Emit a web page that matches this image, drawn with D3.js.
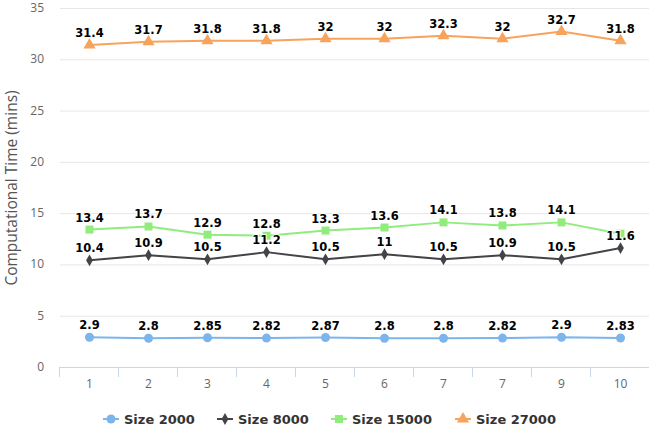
<!DOCTYPE html>
<html><head><meta charset="utf-8">
<script src="https://cdn.jsdelivr.net/npm/d3@7"></script>
<style>body{margin:0;background:#fff;}svg{display:block;font-family:"DejaVu Sans",sans-serif;}</style>
</head><body><svg id="c" width="649" height="432"></svg>
<script>
const categories = ["1","2","3","4","5","6","7","7","9","10"];
const size2000 = [2.9, 2.8, 2.85, 2.82, 2.87, 2.8, 2.8, 2.82, 2.9, 2.83];
const size8000 = [10.4, 10.9, 10.5, 11.2, 10.5, 11, 10.5, 10.9, 10.5, 11.6];
const size15000 = [13.4, 13.7, 12.9, 12.8, 13.3, 13.6, 14.1, 13.8, 14.1, 13];
const size27000 = [31.4, 31.7, 31.8, 31.8, 32, 32, 32.3, 32, 32.7, 31.8];
const seriesNames = ["Size 2000", "Size 8000", "Size 15000", "Size 27000"];
const yTicks = [0, 5, 10, 15, 20, 25, 30, 35];
const hiddenLabels = {"Size 15000": [9]};

const colors = ["#7cb5ec", "#434348", "#90ed7d", "#f7a35c"];
const symbols = [d3.symbolCircle, d3.symbolDiamond, d3.symbolSquare, d3.symbolTriangle];
const symSizes = [64, 40, 64, 64];
const series = [size2000, size8000, size15000, size27000].map((v, i) => ({name: seriesNames[i], values: v}));

const svg = d3.select("#c");
const L = 60, R = 650, T = 8, B = 367;
const x = d3.scaleBand().domain(d3.range(categories.length)).range([L, R]);
const y = d3.scaleLinear().domain([0, 35]).range([B, T]);

// gridlines
svg.append("g").selectAll("line").data(yTicks.filter(t => t > 0)).join("line")
  .attr("x1", L).attr("x2", 649).attr("y1", d => y(d) + 0.5).attr("y2", d => y(d) + 0.5)
  .attr("stroke", "#e6e6e6").attr("stroke-width", 1);

// y tick labels
svg.append("g").selectAll("text").data(yTicks).join("text")
  .attr("x", 44).attr("y", d => y(d) + 4).attr("text-anchor", "end")
  .attr("fill", "#666").style("font-family", "'Open Sans', sans-serif").style("font-size", "12px").text(d => d);

// y title
svg.append("text").attr("transform", "translate(17," + 188 + ") rotate(-90)")
  .attr("text-anchor", "middle").attr("fill", "#555").style("font-family", "'Open Sans', sans-serif").style("font-size", "15.5px")
  .text("Computational Time (mins)");

// x axis
const xa = svg.append("g");
xa.append("line").attr("x1", L).attr("x2", 649).attr("y1", B + 0.5).attr("y2", B + 0.5)
  .attr("stroke", "#ccd6eb").attr("stroke-width", 1);
xa.selectAll("line.tick").data(d3.range(categories.length + 1)).join("line").attr("class", "tick")
  .attr("x1", d => Math.round(L + d * x.bandwidth()) - 0.5).attr("x2", d => Math.round(L + d * x.bandwidth()) - 0.5)
  .attr("y1", B).attr("y2", B + 10).attr("stroke", "#ccd6eb");
xa.selectAll("text").data(categories).join("text")
  .attr("x", (d, i) => x(i) + x.bandwidth() / 2).attr("y", B + 21).attr("text-anchor", "middle")
  .attr("fill", "#666").style("font-family", "'Open Sans', sans-serif").style("font-size", "12px").text(d => d);

const cx = i => x(i) + x.bandwidth() / 2;
const line = d3.line().x((d, i) => cx(i)).y(d => y(d));

series.forEach((s, si) => {
  const g = svg.append("g");
  g.append("path").datum(s.values).attr("d", line).attr("fill", "none")
    .attr("stroke", colors[si]).attr("stroke-width", 2).attr("stroke-linejoin", "round");
  g.selectAll("path.m").data(s.values).join("path").attr("class", "m")
    .attr("transform", (d, i) => "translate(" + cx(i) + "," + y(d) + ")")
    .attr("d", d3.symbol().type(symbols[si]).size(symSizes[si])).attr("fill", colors[si]);
});

series.forEach((s, si) => {
  const hid = hiddenLabels[s.name] || [];
  svg.append("g").selectAll("text").data(s.values).join("text")
    .filter((d, i) => !hid.includes(i))
    .attr("x", (d, i) => cx(i)).attr("y", d => y(d) - 8).attr("text-anchor", "middle")
    .style("font-size", "11.5px").style("font-weight", "bold").attr("fill", "#000")
    .attr("stroke", "#fff").attr("stroke-width", 2).attr("paint-order", "stroke").attr("stroke-linejoin", "round")
    .text(d => d);
});

// legend
const legX = [103, 217, 331, 455];
const lg = svg.append("g");
series.forEach((s, si) => {
  const gx = legX[si], gy = 419;
  lg.append("line").attr("x1", gx).attr("x2", gx + 16).attr("y1", gy).attr("y2", gy)
    .attr("stroke", colors[si]).attr("stroke-width", 2);
  lg.append("path").attr("transform", "translate(" + (gx + 8) + "," + gy + ")")
    .attr("d", d3.symbol().type(symbols[si]).size(symSizes[si])).attr("fill", colors[si]);
  lg.append("text").attr("x", gx + 21).attr("y", gy + 5).attr("fill", "#333")
    .style("font-size", "13px").style("font-weight", "bold").text(s.name);
});
</script></body></html>
